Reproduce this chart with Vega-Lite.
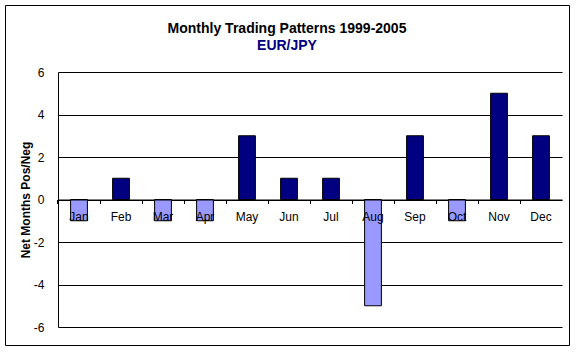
{
  "$schema": "https://vega.github.io/schema/vega-lite/v6.json",
  "width": 564,
  "height": 340,
  "autosize": "none",
  "padding": {"left": 5, "top": 5, "right": 8, "bottom": 8},
  "background": "white",
  "title": {
    "text": "Monthly Trading Patterns 1999-2005",
    "subtitle": "EUR/JPY",
    "anchor": "middle",
    "offset": -48,
    "font": "Liberation Sans",
    "fontSize": 14,
    "fontWeight": "bold",
    "color": "black",
    "subtitleFont": "Liberation Sans",
    "subtitleFontSize": 14,
    "subtitleFontWeight": "bold",
    "subtitleColor": "#000080",
    "subtitlePadding": 3
  },
  "data": {
    "values": [
      {"month": "Jan", "net": -1},
      {"month": "Feb", "net": 1},
      {"month": "Mar", "net": -1},
      {"month": "Apr", "net": -1},
      {"month": "May", "net": 3},
      {"month": "Jun", "net": 1},
      {"month": "Jul", "net": 1},
      {"month": "Aug", "net": -5},
      {"month": "Sep", "net": 3},
      {"month": "Oct", "net": -1},
      {"month": "Nov", "net": 5},
      {"month": "Dec", "net": 3}
    ]
  },
  "mark": {"type": "bar", "stroke": "black", "strokeWidth": 1, "opacity": 1},
  "encoding": {
    "x": {
      "field": "month",
      "type": "nominal",
      "sort": null,
      "scale": {"range": [53, 557], "paddingInner": 0.6, "paddingOuter": 0.3},
      "axis": {
        "title": null,
        "orient": "bottom",
        "offset": -145.5,
        "domainColor": "black",
        "domainWidth": 1,
        "tickColor": "black",
        "tickSize": 4,
        "bandPosition": -0.75,
        "labelAngle": 0,
        "labelFont": "Liberation Sans",
        "labelFontSize": 12,
        "labelColor": "black",
        "labelPadding": 8,
        "grid": false,
        "zindex": 1
      }
    },
    "y": {
      "field": "net",
      "type": "quantitative",
      "scale": {"domain": [-6, 6], "range": [322, 67], "nice": false, "zero": false},
      "axis": {
        "title": "Net Months Pos/Neg",
        "offset": -53,
        "values": [-6, -4, -2, 0, 2, 4, 6],
        "labelExpr": "'' + datum.value",
        "grid": true,
        "gridColor": "black",
        "gridOpacity": 1,
        "gridWidth": 1,
        "domainColor": "black",
        "ticks": false,
        "labelPadding": 14,
        "labelFlush": false,
        "labelFont": "Liberation Sans",
        "labelFontSize": 12,
        "labelColor": "black",
        "titleFont": "Liberation Sans",
        "titleFontSize": 12,
        "titleFontWeight": "bold",
        "titleColor": "black",
        "titlePadding": 1,
        "zindex": 0
      }
    },
    "color": {
      "condition": {"test": "datum.net > 0", "value": "#000080"},
      "value": "#9999FF"
    }
  },
  "config": {"view": {"stroke": "black", "strokeWidth": 1}}
}
